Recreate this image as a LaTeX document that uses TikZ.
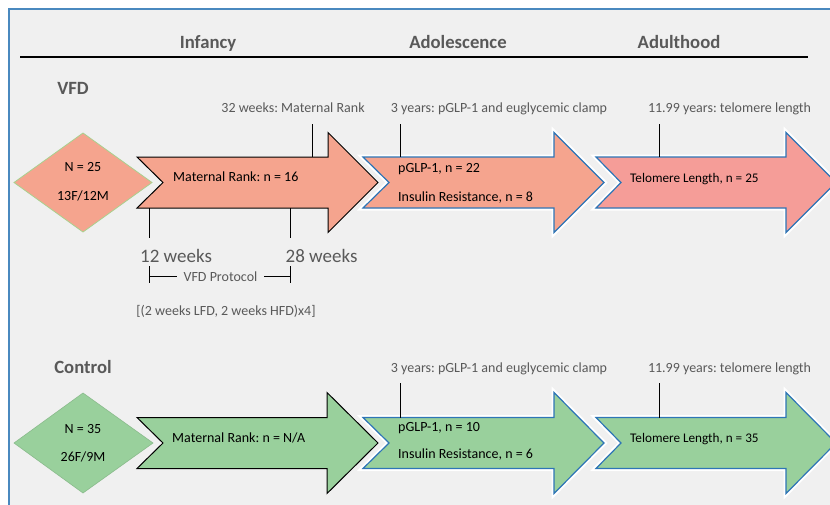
\documentclass[tikz,border=0pt]{standalone}
\usepackage{fontspec}
\setmainfont{Carlito}
\frenchspacing
\definecolor{bgc}{HTML}{F0F0F0}
\definecolor{framec}{HTML}{4A89BF}
\definecolor{txtgray}{HTML}{595959}
\definecolor{salmon}{HTML}{F5A48E}
\definecolor{pinkc}{HTML}{F59D98}
\definecolor{greenc}{HTML}{99D09C}
\definecolor{blueb}{HTML}{2E75B6}
\definecolor{dgreen}{HTML}{A9D18E}
\newcommand{\chevpath}[7]{% tail, notch, head, tip, cy, half body, half head
  (#1,#5-#6) -- (#3,#5-#6) -- (#3,#5-#7) -- (#4,#5) -- (#3,#5+#7) -- (#3,#5+#6) -- (#1,#5+#6) -- (#2,#5) -- cycle}
\begin{document}
\begin{tikzpicture}[x=1pt,y=-1pt,
  hdr/.style={font=\fontsize{18.7}{20}\selectfont\bfseries, text=txtgray, anchor=base, inner sep=0pt},
  grp/.style={font=\fontsize{18.7}{20}\selectfont\bfseries, text=txtgray, anchor=base, inner sep=0pt},
  lbl/.style={font=\fontsize{14}{16}\selectfont, text=txtgray, anchor=base, inner sep=0pt},
  big/.style={font=\fontsize{19}{21}\selectfont, text=txtgray, anchor=base, inner sep=0pt},
  intxt/.style={font=\fontsize{14}{16}\selectfont, text=black, anchor=base, inner sep=0pt},
  teltxt/.style={font=\fontsize{13.2}{15}\selectfont, text=black, anchor=base west, inner sep=0pt},
  tick/.style={draw=black, line width=0.9pt},
  blackarrow/.style={line width=1pt, draw=black},
  bluearrow/.style={line width=1.2pt, draw=blueb},
  halo/.style={line width=5pt, draw=white}
]
\useasboundingbox (0,0) rectangle (830,504);
\fill[white] (0,0) rectangle (830,504);
\fill[bgc] (9,9) rectangle (832,506);
\draw[framec, line width=2pt] (9,506) -- (9,9) -- (832,9);

% header
\node[hdr] (hInf) at (208,48) {Infancy};
\node[hdr] (hAdo) at (458,48) {Adolescence};
\node[hdr] (hAdu) at (679,48) {Adulthood};
\coordinate (hl1) at (20,57);
\coordinate (hl2) at (808,57);
\draw[line width=1.2pt] (hl1) -- (hl2);

% ================= VFD =================
\node[grp] (gVFD) at (73,94) {VFD};
\node[lbl] (l32) at (293,112.5) {32 weeks: Maternal Rank};
\node[lbl] (l3y) at (499,112.5) {3 years: pGLP-1 and euglycemic clamp};
\node[lbl] (l11) at (729.5,112.5) {11.99 years: telomere length};

% diamond
\draw[fill=salmon, draw=dgreen, line width=0.8pt] (14,182.5) -- (83,133) -- (152,182.5) -- (83,232) -- cycle;
\node[intxt] (vN) at (83,171.3) {N = 25};
\node[intxt] (vS) at (83,200.5) {13F/12M};

% arrows
\draw[halo] \chevpath{596}{621}{786}{836}{182.5}{25.5}{50};
\draw[halo] \chevpath{363}{389}{554}{604}{182.5}{25.5}{50};
\draw[fill=salmon, blackarrow] \chevpath{137}{163}{328}{378}{182.5}{25.5}{50};
\draw[fill=salmon, bluearrow] \chevpath{363}{389}{554}{604}{182.5}{25.5}{50};
\draw[fill=pinkc, bluearrow] \chevpath{596}{621}{786}{836}{182.5}{25.5}{50};

\node[intxt, anchor=base west] (vMR) at (173,181.8) {Maternal Rank: n = 16};
\node[intxt, anchor=base west] (vP) at (398,172.8) {pGLP-1, n = 22};
\node[intxt, anchor=base west] (vI) at (398,201.8) {Insulin Resistance, n = 8};
\node[teltxt] (vT) at (630,182.5) {Telomere Length, n = 25};

% ticks above
\coordinate (va1) at (312,124); \coordinate (va2) at (312,157);
\coordinate (vb1) at (400,124); \coordinate (vb2) at (400,157);
\coordinate (vc1) at (659,124); \coordinate (vc2) at (659,157);
\draw[tick] (va1) -- (va2);
\draw[tick] (vb1) -- (vb2);
\draw[tick] (vc1) -- (vc2);

% ticks below
\coordinate (w1a) at (149.3,208); \coordinate (w1b) at (149.3,238);
\coordinate (w2a) at (290.7,208); \coordinate (w2b) at (290.7,238);
\draw[tick] (w1a) -- (w1b);
\draw[tick] (w2a) -- (w2b);
\node[big] (w12) at (176,262.7) {12 weeks};
\node[big] (w28) at (321.5,262.7) {28 weeks};

% protocol bracket
\node[lbl] (vfdp) at (220.5,281.2) {VFD Protocol};
\coordinate (p1a) at (149.3,266); \coordinate (p1b) at (149.3,283);
\coordinate (p2a) at (290.7,266); \coordinate (p2b) at (290.7,283);
\coordinate (p1m) at (149.3,276.7); \coordinate (p2m) at (290.7,276.7);
\draw[tick] (p1a) -- (p1b);
\draw[tick] (p2a) -- (p2b);
\draw[tick] (p1m) -- ([xshift=-6pt]vfdp.west |- p1m);
\draw[tick] (p2m) -- ([xshift=6pt]vfdp.east |- p2m);
\node[lbl] (sched) at (226,315.5) {[(2 weeks LFD, 2 weeks HFD)x4]};

% ================= Control =================
\node[grp] (gCtl) at (83,373) {Control};
\node[lbl] (c3y) at (499,372.5) {3 years: pGLP-1 and euglycemic clamp};
\node[lbl] (c11) at (729.5,372.5) {11.99 years: telomere length};

\draw[fill=greenc, draw=greenc!90!black, line width=0.6pt] (14,443) -- (83,393) -- (153,443) -- (83,493) -- cycle;
\node[intxt] (cN) at (83,433.8) {N = 35};
\node[intxt] (cS) at (83,461.8) {26F/9M};

\draw[halo] \chevpath{596}{621}{786}{836}{443}{25.5}{50.5};
\draw[halo] \chevpath{363}{389}{554}{604}{443}{25.5}{50.5};
\draw[fill=greenc, blackarrow] \chevpath{137}{163}{327}{378}{443}{25.5}{50.5};
\draw[fill=greenc, bluearrow] \chevpath{363}{389}{554}{604}{443}{25.5}{50.5};
\draw[fill=greenc, bluearrow] \chevpath{596}{621}{786}{836}{443}{25.5}{50.5};

\node[intxt, anchor=base west] (cMR) at (172,442.2) {Maternal Rank: n = N/A};
\node[intxt, anchor=base west] (cP) at (398,431.8) {pGLP-1, n = 10};
\node[intxt, anchor=base west] (cI) at (398,458.5) {Insulin Resistance, n = 6};
\node[teltxt] (cT) at (630,442.2) {Telomere Length, n = 35};

\coordinate (cb1) at (400,383); \coordinate (cb2) at (400,418);
\coordinate (cc1) at (659,383); \coordinate (cc2) at (659,418);
\draw[tick] (cb1) -- (cb2);
\draw[tick] (cc1) -- (cc2);
\end{tikzpicture}
\end{document}
